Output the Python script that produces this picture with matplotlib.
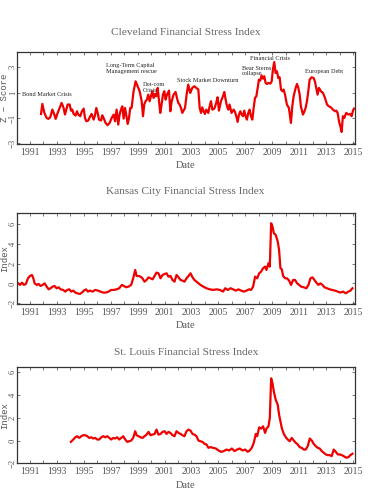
import matplotlib
matplotlib.use("Agg")
import matplotlib.pyplot as plt

plt.rcParams['font.family'] = ['Liberation Serif', 'DejaVu Serif']
plt.rcParams['axes.unicode_minus'] = True

# ---- data (decimal years, index values) ----
cle_year = [1991.82, 1991.92, 1992.07, 1992.24, 1992.36, 1992.51, 1992.66, 1992.81, 1992.91,
            1993.06, 1993.20, 1993.35, 1993.50, 1993.60, 1993.70, 1993.80, 1993.95, 1994.05,
            1994.15, 1994.24, 1994.39, 1994.49, 1994.59, 1994.74, 1994.84, 1994.99, 1995.09,
            1995.19, 1995.33, 1995.48, 1995.58, 1995.73, 1995.83, 1995.93, 1996.03, 1996.13,
            1996.28, 1996.37, 1996.47, 1996.62, 1996.77, 1996.92, 1997.07, 1997.22, 1997.32,
            1997.44, 1997.56, 1997.66, 1997.76, 1997.86, 1997.96, 1998.06, 1998.16, 1998.26,
            1998.36, 1998.45, 1998.55, 1998.70, 1998.85, 1999.00, 1999.15, 1999.30, 1999.40,
            1999.49, 1999.59, 1999.69, 1999.79, 1999.89, 1999.99, 2000.09, 2000.19, 2000.29,
            2000.39, 2000.49, 2000.58, 2000.68, 2000.78, 2000.88, 2000.98, 2001.08, 2001.18,
            2001.33, 2001.43, 2001.53, 2001.67, 2001.82, 2001.92, 2002.02, 2002.12, 2002.22,
            2002.32, 2002.52, 2002.64, 2002.76, 2002.91, 2003.06, 2003.21, 2003.36, 2003.51,
            2003.61, 2003.71, 2003.80, 2003.90, 2004.00, 2004.10, 2004.25, 2004.35, 2004.45,
            2004.55, 2004.70, 2004.84, 2004.94, 2005.04, 2005.19, 2005.34, 2005.44, 2005.54,
            2005.64, 2005.74, 2005.83, 2005.98, 2006.13, 2006.23, 2006.33, 2006.43, 2006.53,
            2006.63, 2006.73, 2006.83, 2006.92, 2007.02, 2007.12, 2007.22, 2007.32, 2007.42,
            2007.52, 2007.62, 2007.72, 2007.82, 2007.92, 2008.01, 2008.11, 2008.21, 2008.31,
            2008.41, 2008.51, 2008.61, 2008.71, 2008.86, 2008.96, 2009.05, 2009.15, 2009.25,
            2009.35, 2009.45, 2009.55, 2009.65, 2009.75, 2009.85, 2009.95, 2010.09, 2010.24,
            2010.39, 2010.49, 2010.59, 2010.74, 2010.84, 2010.94, 2011.04, 2011.13, 2011.28,
            2011.38, 2011.48, 2011.58, 2011.68, 2011.78, 2011.93, 2012.08, 2012.17, 2012.27,
            2012.37, 2012.47, 2012.62, 2012.77, 2012.92, 2013.07, 2013.21, 2013.36, 2013.51,
            2013.66, 2013.76, 2013.86, 2013.96, 2014.06, 2014.16, 2014.25, 2014.35, 2014.50,
            2014.65, 2014.80, 2014.90, 2015.00, 2015.08]
cle_val = [-0.68, 0.11, -0.60, -1.00, -1.07, -0.94, -0.34, -0.73, -1.07,
           -0.60, -0.21, 0.19, -0.21, -0.73, -0.34, 0.06, 0.06, -0.42,
           -0.34, -0.68, -0.81, -0.47, -0.73, -0.86, -0.52, -0.26, -1.00,
           -1.26, -1.20, -0.86, -0.68, -1.13, -0.79, -0.21, -0.60, -1.13,
           -1.20, -0.79, -1.00, -1.39, -1.57, -1.39, -1.00, -0.73, -1.26,
           -0.34, -1.52, -0.73, -0.34, -0.08, -1.05, -0.21, -0.79, -1.47,
           -1.00, -0.21, -0.21, 1.11, 1.89, 1.50, 1.11, 0.32, -0.86,
           0.06, 0.32, 0.45, 0.84, 0.32, 0.71, 1.11, 0.58, 0.90,
           0.71, 1.37, 0.45, -0.60, 0.06, 0.84, 1.11, 0.45, 0.84,
           1.16, -0.47, 0.32, 0.84, 1.05, 0.58, 0.19, 0.06, -0.21,
           -0.60, -0.21, 0.84, 1.63, 0.97, 1.37, 1.50, 1.37, 1.24,
           -0.21, -0.60, -0.16, -0.47, -0.68, -0.34, -0.60, -0.08, 0.32,
           -0.34, -0.26, 0.19, 0.63, -0.42, 0.32, 0.71, 1.05, 0.45,
           -0.08, -0.34, 0.06, -0.60, -0.34, -0.52, -0.86, -1.31, -0.73,
           -0.47, -0.73, -0.86, -0.42, -0.86, -1.13, -0.60, -0.34, -0.86,
           -1.13, -0.21, 0.58, 0.71, 1.37, 2.02, 1.95, 2.36, 2.10,
           2.29, 1.76, 1.68, 1.76, 1.71, 1.89, 2.81, 3.41, 2.55,
           2.68, 2.15, 2.21, 1.24, 1.11, 1.24, 0.84, 0.06, -0.21,
           -1.39, -0.08, 0.71, 1.37, 1.68, 1.37, 0.84, -0.08, -0.73,
           -0.52, -0.21, 0.32, 1.11, 2.02, 2.21, 2.15, 1.89, 1.37,
           0.84, 1.37, 1.11, 0.97, 0.58, 0.06, -0.08, -0.16, -0.34,
           -0.47, -0.42, -0.60, -1.26, -1.65, -2.10, -0.86, -1.00, -0.60,
           -0.73, -0.68, -0.86, -0.42, -0.26]

kc_year = [1990.13, 1990.26, 1990.41, 1990.55, 1990.70, 1990.85, 1991.00, 1991.15, 1991.25,
           1991.35, 1991.50, 1991.64, 1991.79, 1991.94, 1992.09, 1992.24, 1992.39, 1992.53,
           1992.68, 1992.83, 1992.98, 1993.13, 1993.28, 1993.47, 1993.62, 1993.77, 1993.92,
           1994.07, 1994.22, 1994.37, 1994.51, 1994.71, 1994.86, 1995.01, 1995.16, 1995.31,
           1995.45, 1995.65, 1995.85, 1996.05, 1996.25, 1996.44, 1996.64, 1996.84, 1997.04,
           1997.24, 1997.43, 1997.63, 1997.83, 1997.98, 1998.13, 1998.33, 1998.52, 1998.67,
           1998.82, 1998.92, 1999.07, 1999.22, 1999.36, 1999.51, 1999.66, 1999.81, 1999.96,
           2000.11, 2000.26, 2000.40, 2000.55, 2000.70, 2000.85, 2001.00, 2001.15, 2001.29,
           2001.44, 2001.59, 2001.74, 2001.89, 2002.04, 2002.19, 2002.33, 2002.48, 2002.63,
           2002.78, 2002.93, 2003.08, 2003.22, 2003.37, 2003.52, 2003.67, 2003.87, 2004.12,
           2004.36, 2004.61, 2004.86, 2005.11, 2005.35, 2005.50, 2005.70, 2005.90, 2006.10,
           2006.29, 2006.49, 2006.69, 2006.89, 2007.09, 2007.28, 2007.43, 2007.58, 2007.73,
           2007.88, 2008.03, 2008.17, 2008.32, 2008.47, 2008.57, 2008.72, 2008.82, 2008.92,
           2009.02, 2009.12, 2009.26, 2009.41, 2009.51, 2009.61, 2009.71, 2009.81, 2009.96,
           2010.10, 2010.25, 2010.40, 2010.55, 2010.70, 2010.85, 2011.00, 2011.14, 2011.34,
           2011.54, 2011.69, 2011.84, 2011.99, 2012.13, 2012.28, 2012.43, 2012.58, 2012.73,
           2012.88, 2013.07, 2013.27, 2013.47, 2013.67, 2013.87, 2014.06, 2014.26, 2014.46,
           2014.66, 2014.81, 2014.96]
kc_val = [0.00, -0.16, 0.07, -0.16, -0.06, 0.51, 0.75, 0.85, 0.51,
          0.00, -0.16, -0.06, -0.27, -0.16, 0.00, -0.33, -0.61, -0.50,
          -0.33, -0.27, -0.50, -0.40, -0.61, -0.67, -0.84, -0.67, -0.61,
          -0.84, -0.74, -0.94, -1.01, -1.08, -0.94, -0.74, -0.61, -0.84,
          -0.74, -0.84, -0.67, -0.74, -0.84, -0.94, -0.94, -0.84, -0.67,
          -0.67, -0.61, -0.50, -0.16, -0.27, -0.40, -0.33, -0.16, 0.51,
          1.36, 0.75, 0.75, 0.68, 0.51, 0.17, 0.34, 0.61, 0.51,
          0.41, 0.75, 1.09, 1.02, 0.51, 0.85, 0.95, 1.02, 0.68,
          0.75, 0.34, 0.17, 0.85, 0.61, 0.34, 0.28, 0.17, 0.51,
          0.75, 1.02, 0.61, 0.34, 0.17, 0.00, -0.16, -0.33, -0.50,
          -0.61, -0.67, -0.61, -0.67, -0.84, -0.50, -0.67, -0.50, -0.61,
          -0.74, -0.61, -0.74, -0.84, -0.74, -0.61, -0.67, -0.33, 0.68,
          0.51, 1.02, 1.19, 1.53, 1.70, 1.36, 2.04, 1.70, 6.11,
          5.77, 5.09, 4.92, 4.24, 3.39, 1.53, 1.43, 0.75, 0.51,
          0.51, 0.28, -0.16, 0.34, 0.34, 0.00, -0.16, -0.33, -0.40,
          -0.50, -0.16, 0.51, 0.61, 0.34, 0.07, -0.16, 0.00, -0.16,
          -0.40, -0.50, -0.61, -0.67, -0.74, -0.84, -0.94, -0.84, -1.01,
          -0.84, -0.74, -0.50]

stl_year = [1994.04, 1994.22, 1994.37, 1994.51, 1994.66, 1994.81, 1994.96, 1995.11, 1995.26,
            1995.41, 1995.55, 1995.70, 1995.85, 1996.00, 1996.15, 1996.30, 1996.44, 1996.59,
            1996.74, 1996.89, 1997.04, 1997.19, 1997.34, 1997.48, 1997.63, 1997.78, 1997.93,
            1998.08, 1998.23, 1998.38, 1998.52, 1998.67, 1998.82, 1998.92, 1999.07, 1999.22,
            1999.36, 1999.51, 1999.66, 1999.81, 1999.96, 2000.11, 2000.26, 2000.40, 2000.55,
            2000.70, 2000.85, 2001.00, 2001.15, 2001.29, 2001.44, 2001.59, 2001.74, 2001.89,
            2002.04, 2002.19, 2002.33, 2002.48, 2002.63, 2002.78, 2002.93, 2003.08, 2003.22,
            2003.37, 2003.52, 2003.67, 2003.82, 2003.97, 2004.12, 2004.26, 2004.41, 2004.61,
            2004.81, 2005.01, 2005.20, 2005.40, 2005.60, 2005.80, 2006.00, 2006.20, 2006.39,
            2006.59, 2006.79, 2006.99, 2007.18, 2007.33, 2007.48, 2007.63, 2007.78, 2007.88,
            2008.03, 2008.17, 2008.32, 2008.47, 2008.57, 2008.72, 2008.82, 2008.92, 2009.02,
            2009.12, 2009.26, 2009.41, 2009.51, 2009.61, 2009.71, 2009.86, 2010.01, 2010.15,
            2010.30, 2010.45, 2010.60, 2010.75, 2010.90, 2011.04, 2011.19, 2011.34, 2011.49,
            2011.64, 2011.79, 2011.94, 2012.08, 2012.23, 2012.38, 2012.53, 2012.68, 2012.83,
            2012.98, 2013.12, 2013.27, 2013.42, 2013.57, 2013.72, 2013.87, 2014.02, 2014.16,
            2014.31, 2014.51, 2014.66, 2014.81, 2014.96]
stl_val = [-0.12, 0.09, 0.29, 0.38, 0.23, 0.38, 0.47, 0.47, 0.38,
           0.23, 0.29, 0.18, 0.23, 0.09, 0.09, 0.29, 0.38, 0.29,
           0.38, 0.23, 0.09, 0.23, 0.18, 0.29, 0.09, 0.23, 0.38,
           0.09, -0.12, -0.06, 0.00, 0.23, 0.82, 0.47, 0.38, 0.29,
           0.23, 0.38, 0.52, 0.76, 0.47, 0.52, 0.58, 0.96, 0.52,
           0.58, 0.76, 0.82, 0.58, 0.76, 0.67, 0.47, 0.38, 0.82,
           0.67, 0.58, 0.47, 0.38, 0.82, 0.96, 0.87, 0.58, 0.52,
           0.38, 0.00, -0.06, -0.12, -0.29, -0.35, -0.64, -0.58, -0.64,
           -0.70, -0.87, -0.99, -0.93, -0.79, -0.87, -0.70, -0.93, -0.79,
           -0.70, -0.87, -0.79, -0.99, -0.87, -0.64, -0.20, 0.58, 0.38,
           1.16, 1.05, 1.25, 0.67, 1.05, 1.25, 1.98, 5.47, 5.04,
           4.31, 3.58, 3.14, 2.27, 1.69, 1.11, 0.58, 0.29, 0.09,
           -0.06, 0.23, 0.00, -0.20, -0.35, -0.58, -0.64, -0.79, -0.79,
           -0.49, 0.18, 0.00, -0.29, -0.49, -0.64, -0.70, -0.93, -1.08,
           -1.22, -1.28, -1.28, -1.37, -0.79, -0.99, -1.22, -1.22, -1.28,
           -1.37, -1.51, -1.46, -1.28, -1.16]

year_ticks = list(range(1991, 2016, 2))

# annotations on the Cleveland panel: (text, year, value)
cle_notes = [
    ("Bond Market Crisis", 1990.38, 0.84),
    ("Long-Term Capital\nManagement rescue", 1996.62, 2.91),
    ("Dot-com\nCrisis", 1999.41, 1.42),
    ("Stock Market Downturn", 2001.96, 1.97),
    ("Bear Sterns\ncollapse", 2006.76, 2.71),
    ("Financial Crisis", 2007.33, 3.68),
    ("European Debt", 2011.42, 2.68),
]

LINE = '#ee0000'
TXT = '#555555'
W, H = 370, 495
LEFT, RIGHT = 16.5, 355.0


def make_axes(top_px, bottom_px):
    return fig.add_axes([LEFT / W, 1 - bottom_px / H,
                         (RIGHT - LEFT) / W, (bottom_px - top_px) / H])


def style(ax, title, ylabel, yticks, ylim, title_off):
    ax.set_xlim(1990.0, 2015.15)
    ax.set_ylim(*ylim)
    ax.set_xticks(year_ticks)
    ax.set_xticks(range(1990, 2016, 2), minor=True)
    ax.set_yticks(yticks)
    ax.tick_params(which='both', direction='in', top=True, right=True,
                   length=2.5, width=0.5, color='#444444')
    ax.tick_params(axis='x', labelsize=7, labelcolor=TXT, pad=3)
    ax.tick_params(axis='y', labelsize=6.2, labelcolor=TXT, pad=1.2,
                   labelrotation=90)
    # rotated tick labels: centred on the tick, baseline next to the spine
    for lab in ax.get_yticklabels():
        lab.set_rotation_mode('anchor')
        lab.set_ha('center')
        lab.set_va('baseline')
    for sp in ax.spines.values():
        sp.set_color('#333333')
        sp.set_linewidth(0.9)
    ax.text(0.5, 1 + title_off, title, transform=ax.transAxes,
            ha='center', va='center', fontsize=8.2, color='#666666')
    ax.set_xlabel('Date', fontsize=7.5, color=TXT, labelpad=3)
    ax.set_ylabel(ylabel, fontsize=6.5, color=TXT, va='baseline',
                  family=['Liberation Mono', 'DejaVu Sans Mono'])
    ax.yaxis.set_label_coords((7.3 - LEFT) / (RIGHT - LEFT), 0.5)


fig = plt.figure(figsize=(W / 100, H / 100), dpi=100)

ax1 = make_axes(52, 144)
ax1.plot(cle_year, cle_val, color=LINE, lw=1.6)
style(ax1, 'Cleveland Financial Stress Index', 'Z \u2212 Score',
      [-3, -1, 1, 3], (-3.05, 4.2), 0.217)
for txt, x, y in cle_notes:
    ax1.text(x, y, txt, fontsize=4.5, color='#222222', ha='left', va='center',
             linespacing=1.15)

ax2 = make_axes(212.7, 304)
ax2.plot(kc_year, kc_val, color=LINE, lw=1.6)
style(ax2, 'Kansas City Financial Stress Index', 'Index',
      [-2, 0, 2, 4, 6], (-2.1, 7.18), 0.227)

ax3 = make_axes(367.3, 463.3)
ax3.plot(stl_year, stl_val, color=LINE, lw=1.6)
style(ax3, 'St. Louis Financial Stress Index', 'Index',
      [-2, 0, 2, 4, 6], (-2.0, 6.44), 0.156)

fig.savefig('out.png', dpi=100)
